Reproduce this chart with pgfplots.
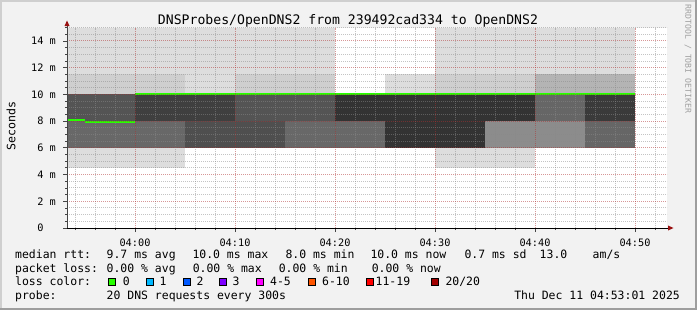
\documentclass[border=0pt]{standalone}
\usepackage{pgfplots}
\pgfplotsset{compat=1.18}
\usepackage{fontspec}
\setmainfont{DejaVu Sans Mono}
\definecolor{bgc}{HTML}{F2F2F2}
\definecolor{shA}{HTML}{CFCFCF}
\definecolor{shB}{HTML}{9E9E9E}
\definecolor{cL}{HTML}{DDDDDD}
\definecolor{cM}{HTML}{CFCFCF}
\definecolor{cB4}{HTML}{B4B4B4}
\definecolor{g33}{HTML}{333333}
\definecolor{g3a}{HTML}{3A3A3A}
\definecolor{g40}{HTML}{3F3F3F}
\definecolor{g50}{HTML}{4F4F4F}
\definecolor{g55}{HTML}{545454}
\definecolor{g68}{HTML}{686868}
\definecolor{g66}{HTML}{666666}
\definecolor{g8c}{HTML}{8C8C8C}
\definecolor{lgreen}{HTML}{26FF00}
\definecolor{lc1}{HTML}{00B8FF}
\definecolor{lc2}{HTML}{0059FF}
\definecolor{lc3}{HTML}{7E00FF}
\definecolor{lc4}{HTML}{FF00FF}
\definecolor{lc6}{HTML}{FF5500}
\definecolor{lc11}{HTML}{FF0000}
\definecolor{lc20}{HTML}{A10000}
\definecolor{arrowc}{HTML}{991111}
\definecolor{axc}{HTML}{444444}
\definecolor{majg}{HTML}{B03030}
\definecolor{ming}{HTML}{8A8A8A}
\definecolor{wmk}{HTML}{A0A0A0}
\begin{document}
\begin{tikzpicture}[x=1bp,y=1bp]
\fill[bgc] (0,0) rectangle (697,310);
\fill[shA] (0,308) rectangle (697,310);
\fill[shA] (0,0) rectangle (2,310);
\fill[shB] (0,0) rectangle (697,2);
\fill[shB] (695,0) rectangle (697,310);
\begin{axis}[
  at={(67bp,82bp)}, anchor=south west, scale only axis,
  width=600bp, height=200.36bp,
  xmin=-6.8, xmax=53.2, ymin=0, ymax=15,
  axis lines=left, axis line style={draw=none},
  axis background/.style={fill=white},
  axis on top,
  xtick={0,10,20,30,40,50},
  xticklabels={04:00,04:10,04:20,04:30,04:40,04:50},
  minor xtick={-6,-4,-2,2,4,6,8,12,14,16,18,22,24,26,28,32,34,36,38,42,44,46,48,52},
  ytick={0,2,4,6,8,10,12,14},
  yticklabels={0\phantom{ m},2 m,4 m,6 m,8 m,10 m,12 m,14 m},
  minor ytick={0.5,1,1.5,2.5,3,3.5,4.5,5,5.5,6.5,7,7.5,8.5,9,9.5,10.5,11,11.5,12.5,13,13.5,14.5,15},
  grid=both,
  major grid style={draw=majg, opacity=0.5, line width=1bp, dash pattern=on 1bp off 1bp},
  minor grid style={draw=ming, opacity=0.5, line width=1bp, dash pattern=on 1bp off 1bp},
  tick align=outside,
  major tick length=4bp, minor tick length=2bp,
  tick style={axc, line width=0.8bp},
  xticklabel style={font=\fontsize{10.3}{12}\selectfont, anchor=north, inner sep=0pt, yshift=-6.5bp},
  yticklabel style={font=\fontsize{10.3}{12}\selectfont, anchor=east, inner sep=0pt, xshift=-7bp},
]
% band 11.5-15
\addplot[fill=cL, draw=none] coordinates {(-6.8,11.5) (20,11.5) (20,15) (-6.8,15)} -- cycle;
\addplot[fill=cL, draw=none] coordinates {(30,11.5) (50,11.5) (50,15) (30,15)} -- cycle;
% band 10-11.5
\addplot[fill=cM, draw=none] coordinates {(-6.8,10) (5,10) (5,11.5) (-6.8,11.5)} -- cycle;
\addplot[fill=cL, draw=none] coordinates {(5,10) (10,10) (10,11.5) (5,11.5)} -- cycle;
\addplot[fill=cM, draw=none] coordinates {(10,10) (20,10) (20,11.5) (10,11.5)} -- cycle;
\addplot[fill=cL, draw=none] coordinates {(25,10) (30,10) (30,11.5) (25,11.5)} -- cycle;
\addplot[fill=cM, draw=none] coordinates {(30,10) (40,10) (40,11.5) (30,11.5)} -- cycle;
\addplot[fill=cB4, draw=none] coordinates {(40,10) (50,10) (50,11.5) (40,11.5)} -- cycle;
% band 8-10
\addplot[fill=g55, draw=none] coordinates {(-6.8,8) (0,8) (0,10) (-6.8,10)} -- cycle;
\addplot[fill=g40, draw=none] coordinates {(0,8) (10,8) (10,10) (0,10)} -- cycle;
\addplot[fill=g55, draw=none] coordinates {(10,8) (20,8) (20,10) (10,10)} -- cycle;
\addplot[fill=g33, draw=none] coordinates {(20,8) (40,8) (40,10) (20,10)} -- cycle;
\addplot[fill=g66, draw=none] coordinates {(40,8) (45,8) (45,10) (40,10)} -- cycle;
\addplot[fill=g3a, draw=none] coordinates {(45,8) (50,8) (50,10) (45,10)} -- cycle;
% band 6-8
\addplot[fill=g68, draw=none] coordinates {(-6.8,6) (5,6) (5,8) (-6.8,8)} -- cycle;
\addplot[fill=g50, draw=none] coordinates {(5,6) (15,6) (15,8) (5,8)} -- cycle;
\addplot[fill=g68, draw=none] coordinates {(15,6) (25,6) (25,8) (15,8)} -- cycle;
\addplot[fill=g33, draw=none] coordinates {(25,6) (35,6) (35,8) (25,8)} -- cycle;
\addplot[fill=g8c, draw=none] coordinates {(35,6) (45,6) (45,8) (35,8)} -- cycle;
\addplot[fill=g66, draw=none] coordinates {(45,6) (50,6) (50,8) (45,8)} -- cycle;
% band 4.5-6
\addplot[fill=cL, draw=none] coordinates {(-6.8,4.5) (5,4.5) (5,6) (-6.8,6)} -- cycle;
\addplot[fill=cL, draw=none] coordinates {(30,4.5) (40,4.5) (40,6) (30,6)} -- cycle;
% median
\addplot[lgreen, line width=2bp, unbounded coords=jump] coordinates {(-6.8,8.05) (-5,8.05) (-5,nan) (-5,7.95) (0,7.95) (0,nan) (0,10) (50,10)};
\end{axis}
% axes
\draw[black, line width=1bp] (67,82) -- (668,82);
\fill[arrowc] (668,79.5) -- (673.5,82) -- (668,84.5) -- cycle;
\draw[axc, line width=1bp] (67,82) -- (67,284);
\fill[arrowc] (64.5,284) -- (67,289.5) -- (69.5,284) -- cycle;
% title and labels
\node[anchor=base, inner sep=0, font=\fontsize{13.2}{15}\selectfont] at (348,286) {DNSProbes/OpenDNS2 from 239492cad334 to OpenDNS2};
\node[rotate=90, inner sep=0, font=\fontsize{11.6}{14}\selectfont] at (11,184) {Seconds};
\node[rotate=-90, inner sep=0, text=wmk, font=\fontsize{8.2}{10}\selectfont] at (688,251) {RRDTOOL / TOBI OETIKER};
% legend
\begin{scope}[every node/.style={anchor=base west, inner sep=0, font=\fontsize{11.5}{14}\selectfont}]
\node at (15,51.7) {median rtt:};
\node at (106.5,51.7) {9.7 ms avg};
\node at (192.3,51.7) {10.0 ms max};
\node at (285.3,51.7) {8.0 ms min};
\node at (370.3,51.7) {10.0 ms now};
\node at (464.3,51.7) {0.7 ms sd};
\node at (539.5,51.7) {13.0};
\node at (592.5,51.7) {am/s};
\node at (15,38) {packet loss:};
\node at (106.5,38) {0.00 \% avg};
\node at (192.6,38) {0.00 \% max};
\node at (278.6,38) {0.00 \% min};
\node at (371.6,38) {0.00 \% now};
\node at (15,24.3) {loss color:};
\node at (122.6,24.3) {0};
\node at (159.5,24.3) {1};
\node at (196.5,24.3) {2};
\node at (232.5,24.3) {3};
\node at (270,24.3) {4-5};
\node at (322,24.3) {6-10};
\node at (375.5,24.3) {11-19};
\node at (445.3,24.3) {20/20};
\node at (15,10.6) {probe:};
\node at (106.5,10.6) {20 DNS requests every 300s};
\node[anchor=base east] at (680,10.6) {Thu Dec 11 04:53:01 2025};
\end{scope}
\begin{scope}[line width=1bp, draw=black]
\filldraw[fill=lgreen] (108.5,24.5) rectangle (115.5,31.5);
\filldraw[fill=lc1] (146,24.5) rectangle (153,31.5);
\filldraw[fill=lc2] (183,24.5) rectangle (190,31.5);
\filldraw[fill=lc3] (219.3,24.5) rectangle (226.3,31.5);
\filldraw[fill=lc4] (256.3,24.5) rectangle (263.3,31.5);
\filldraw[fill=lc6] (308,24.5) rectangle (315,31.5);
\filldraw[fill=lc11] (366,24.5) rectangle (373,31.5);
\filldraw[fill=lc20] (431,24.5) rectangle (438,31.5);
\end{scope}
\pgfresetboundingbox
\useasboundingbox (0,0) rectangle (697,310);
\end{tikzpicture}
\end{document}
